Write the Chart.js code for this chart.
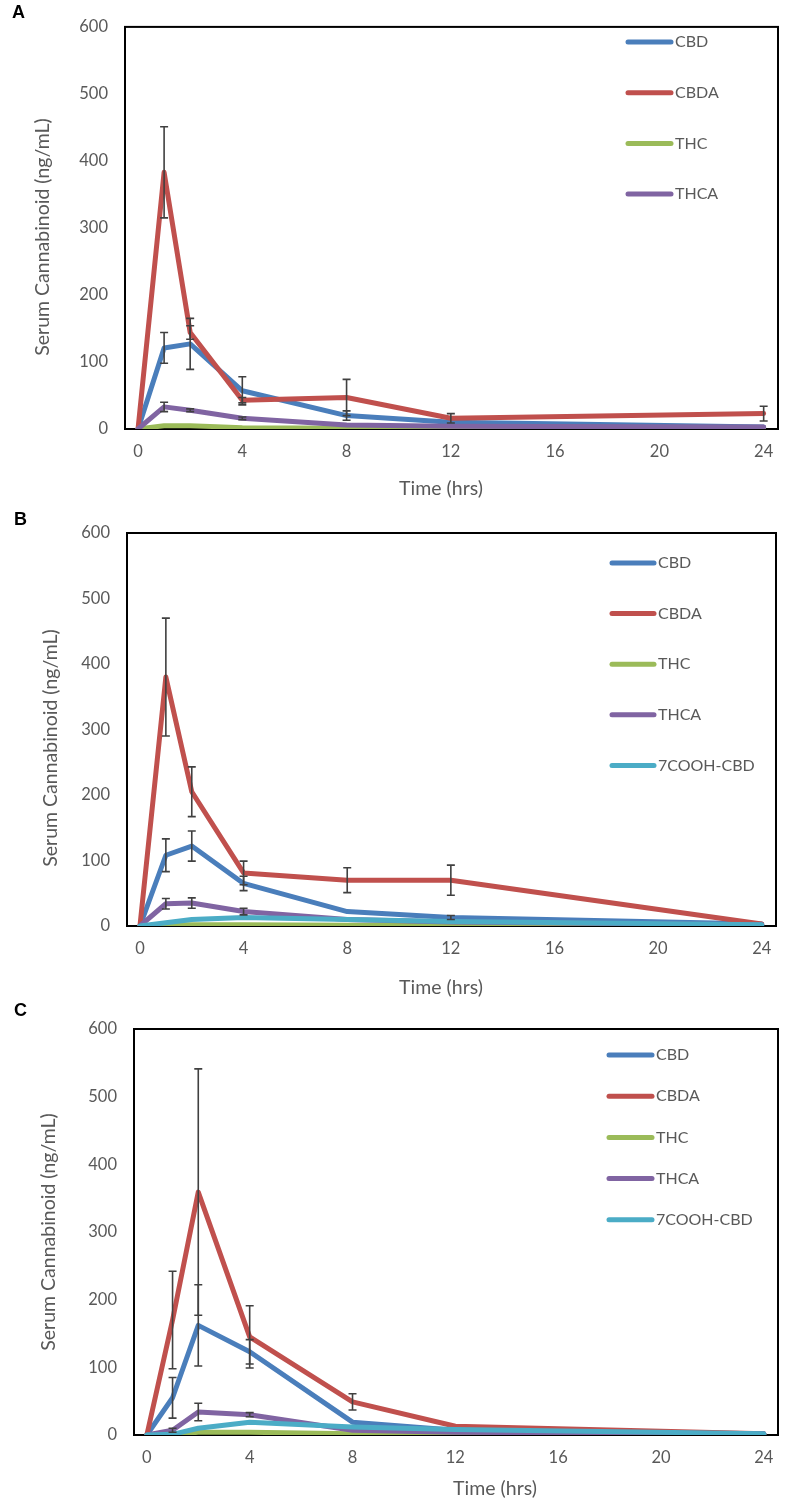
<!DOCTYPE html>
<html lang="en">
<head>
    <meta charset="UTF-8">
    <title>Serum Cannabinoid Concentrations</title>
    <script src="https://cdn.jsdelivr.net/npm/chart.js"></script>
    <style>
        * { margin: 0; padding: 0; box-sizing: border-box; }
        body { width: 787px; height: 1504px; background: #fff; position: relative; overflow: hidden; }
        .panel { position: absolute; left: 0; width: 787px; }
        .panel canvas { display: block; }
        .tag { position: absolute; font: bold 18px "Liberation Sans", Arial, sans-serif; color: #000; }
    </style>
</head>
<body>
    <div class="panel" style="top:0;height:500px">
        <div class="tag" style="left:12px;top:2px">A</div>
        <canvas id="chartA" width="787" height="500"></canvas>
    </div>
    <div class="panel" style="top:500px;height:500px">
        <div class="tag" style="left:14px;top:9px">B</div>
        <canvas id="chartB" width="787" height="500"></canvas>
    </div>
    <div class="panel" style="top:1000px;height:504px">
        <div class="tag" style="left:14px;top:0px">C</div>
        <canvas id="chartC" width="787" height="504"></canvas>
    </div>

    <script>
        // sampling times (hrs) and axis ticks
        const hours = [0, 1, 2, 4, 8, 12, 24];
        const xTicks = [0, 4, 8, 12, 16, 20, 24];
        const yTicks = [0, 100, 200, 300, 400, 500, 600];

        // Panel A
        const aCBD = [0, 121, 127, 57, 20, 10, 3];
        const aCBDErr = [0, 23, 38, 21, 7, 0, 0];
        const aCBDA = [0, 383, 144, 43, 47, 16, 23];
        const aCBDAErr = [0, 68, 10, 4, 27, 7, 11];
        const aTHC = [0, 5, 5, 2, 1, 1, 0];
        const aTHCErr = [0, 0, 0, 0, 0, 0, 0];
        const aTHCA = [0, 33, 28, 16, 6, 4, 3];
        const aTHCAErr = [0, 7, 2, 2, 0, 0, 0];

        // Panel B
        const bCBD = [0, 108, 122, 65, 22, 13, 3];
        const bCBDErr = [0, 25, 23, 11, 0, 3, 0];
        const bCBDA = [0, 380, 205, 81, 70, 70, 3];
        const bCBDAErr = [0, 90, 38, 18, 19, 23, 0];
        const bTHC = [0, 2, 2, 2, 1, 1, 0];
        const bTHCErr = [0, 0, 0, 0, 0, 0, 0];
        const bTHCA = [0, 34, 35, 22, 10, 6, 2];
        const bTHCAErr = [0, 8, 8, 5, 0, 0, 0];
        const b7COOH = [0, 5, 10, 13, 10, 7, 2];
        const b7COOHErr = [0, 0, 0, 0, 0, 0, 0];

        // Panel C
        const cCBD = [0, 55, 162, 123, 19, 7, 2];
        const cCBDErr = [0, 30, 60, 18, 0, 0, 0];
        const cCBDA = [0, 170, 359, 145, 49, 13, 2];
        const cCBDAErr = [0, 72, 182, 46, 12, 0, 0];
        const cTHC = [0, 1, 4, 4, 2, 1, 0];
        const cTHCErr = [0, 0, 0, 0, 0, 0, 0];
        const cTHCA = [0, 7, 34, 30, 7, 4, 2];
        const cTHCAErr = [0, 3, 13, 3, 0, 0, 0];
        const c7COOH = [0, 1, 10, 19, 12, 8, 2];
        const c7COOHErr = [0, 0, 0, 0, 0, 0, 0];

        const colors = {
            CBD: '#4a7ebb',
            CBDA: '#c0504d',
            THC: '#9bbb59',
            THCA: '#8064a2',
            '7COOH-CBD': '#4bacc6'
        };

        const textColor = '#595959';
        const fontFamily = 'Lato, "Open Sans", sans-serif';

        // error bars, frame, legend and axis titles
        const panelDecor = {
            id: 'panelDecor',
            beforeDatasetsDraw(chart) {
                const { ctx, chartArea: a } = chart;
                ctx.save();
                ctx.strokeStyle = '#000';
                ctx.lineWidth = 2;
                ctx.strokeRect(a.left, a.top, a.right - a.left, a.bottom - a.top);
                ctx.restore();
            },
            afterDatasetsDraw(chart) {
                const { ctx, scales } = chart;
                ctx.save();
                ctx.strokeStyle = '#404040';
                ctx.lineWidth = 1.6;
                chart.data.datasets.forEach(ds => {
                    ds.err.forEach((e, j) => {
                        if (!e) return;
                        const px = scales.x.getPixelForValue(hours[j]);
                        const top = scales.y.getPixelForValue(ds.data[j].y + e);
                        const bot = scales.y.getPixelForValue(ds.data[j].y - e);
                        ctx.beginPath();
                        ctx.moveTo(px, top); ctx.lineTo(px, bot);
                        ctx.moveTo(px - 4, top); ctx.lineTo(px + 4, top);
                        ctx.moveTo(px - 4, bot); ctx.lineTo(px + 4, bot);
                        ctx.stroke();
                    });
                });
                ctx.restore();
            },
            afterDraw(chart, args, opts) {
                const { ctx } = chart;
                ctx.save();
                ctx.font = '16px ' + fontFamily;
                ctx.fillStyle = textColor;
                ctx.textBaseline = 'middle';

                // legend inside the plot
                chart.data.datasets.forEach((ds, i) => {
                    const y = opts.legendY + i * opts.legendStep;
                    ctx.strokeStyle = ds.borderColor;
                    ctx.lineWidth = 5;
                    ctx.lineCap = 'round';
                    ctx.beginPath();
                    ctx.moveTo(opts.legendX, y);
                    ctx.lineTo(opts.legendX + opts.legendLen, y);
                    ctx.stroke();
                    ctx.textAlign = 'left';
                    ctx.fillText(ds.label, opts.legendX + opts.legendLen + 4, y);
                });

                // axis titles
                ctx.font = '19.5px ' + fontFamily;
                ctx.textAlign = 'center';
                ctx.fillText('Time (hrs)', opts.xTitle[0], opts.xTitle[1]);
                ctx.translate(opts.yTitle[0], opts.yTitle[1]);
                ctx.rotate(-Math.PI / 2);
                ctx.fillText('Serum Cannabinoid (ng/mL)', 0, 0);
                ctx.restore();
            }
        };

        function makeChart(id, series, box, decor) {
            const canvas = document.getElementById(id);
            const H = canvas.height;
            const tickFont = { family: fontFamily, size: 16.5 };
            return new Chart(canvas.getContext('2d'), {
                type: 'line',
                data: {
                    datasets: series.map((s, i) => ({
                        label: s.label,
                        data: hours.map((h, j) => ({ x: h, y: s.values[j] })),
                        err: s.err,
                        borderColor: colors[s.label],
                        backgroundColor: colors[s.label],
                        borderWidth: 5,
                        borderJoinStyle: 'round',
                        borderCapStyle: 'round',
                        pointRadius: 0,
                        tension: 0,
                        order: -i
                    }))
                },
                options: {
                    responsive: false,
                    animation: false,
                    layout: { padding: { top: box.top, right: 787 - box.right, left: 0, bottom: 0 } },
                    scales: {
                        x: {
                            type: 'linear',
                            min: -0.5,
                            max: 24.55,
                            afterBuildTicks: s => { s.ticks = xTicks.map(v => ({ value: v })); },
                            afterFit: s => { s.height = H - box.bottom; },
                            grid: { display: false, drawTicks: false },
                            border: { display: false },
                            ticks: { font: tickFont, color: textColor, padding: 13, maxRotation: 0 }
                        },
                        y: {
                            min: 0,
                            max: 600,
                            afterBuildTicks: s => { s.ticks = yTicks.map(v => ({ value: v })); },
                            afterFit: s => { s.width = box.left; },
                            grid: { display: false, drawTicks: false },
                            border: { display: false },
                            ticks: { font: tickFont, color: textColor, padding: 17 }
                        }
                    },
                    plugins: {
                        legend: { display: false },
                        tooltip: { enabled: false },
                        panelDecor: decor
                    }
                },
                plugins: [panelDecor]
            });
        }

        makeChart('chartA', [
            { label: 'CBD', values: aCBD, err: aCBDErr },
            { label: 'CBDA', values: aCBDA, err: aCBDAErr },
            { label: 'THC', values: aTHC, err: aTHCErr },
            { label: 'THCA', values: aTHCA, err: aTHCAErr }
        ], { left: 125, right: 778, top: 17, bottom: 429 },
           { legendX: 628, legendY: 42, legendStep: 50.7, legendLen: 43, xTitle: [441, 489], yTitle: [43, 237] });

        makeChart('chartB', [
            { label: 'CBD', values: bCBD, err: bCBDErr },
            { label: 'CBDA', values: bCBDA, err: bCBDAErr },
            { label: 'THC', values: bTHC, err: bTHCErr },
            { label: 'THCA', values: bTHCA, err: bTHCAErr },
            { label: '7COOH-CBD', values: b7COOH, err: b7COOHErr }
        ], { left: 127, right: 776, top: 33, bottom: 426 },
           { legendX: 612, legendY: 63, legendStep: 50.6, legendLen: 42, xTitle: [441, 488], yTitle: [51, 248] });

        makeChart('chartC', [
            { label: 'CBD', values: cCBD, err: cCBDErr },
            { label: 'CBDA', values: cCBDA, err: cCBDAErr },
            { label: 'THC', values: cTHC, err: cTHCErr },
            { label: 'THCA', values: cTHCA, err: cTHCAErr },
            { label: '7COOH-CBD', values: c7COOH, err: c7COOHErr }
        ], { left: 134, right: 778, top: 29, bottom: 435 },
           { legendX: 609, legendY: 55, legendStep: 41.2, legendLen: 43, xTitle: [495, 489], yTitle: [49, 232] });
    </script>
</body>
</html>
